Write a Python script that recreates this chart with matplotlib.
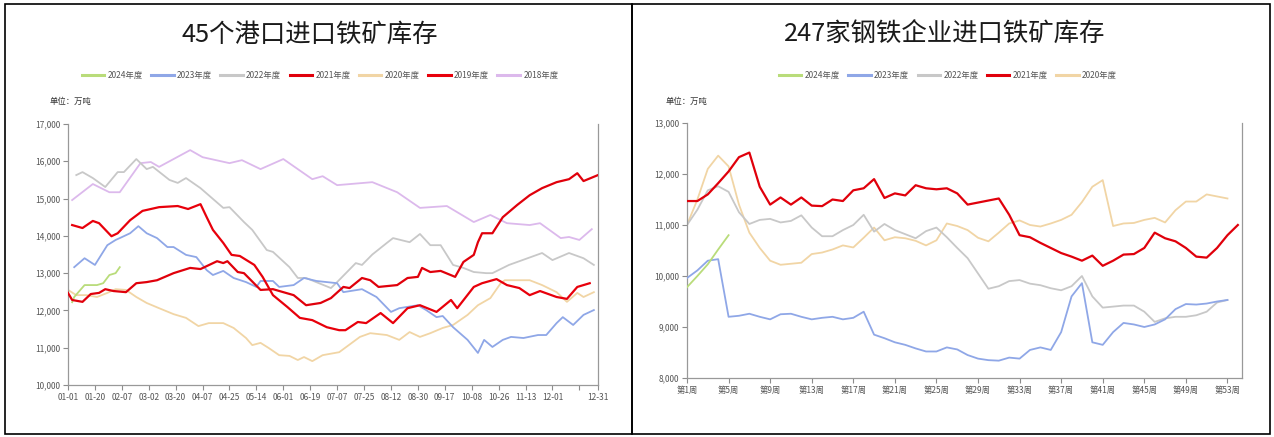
import matplotlib
matplotlib.use("Agg")
import matplotlib.pyplot as plt
from matplotlib.patches import Rectangle
from matplotlib.ticker import FuncFormatter

plt.rcParams['font.family'] = ['Noto Sans CJK SC', 'DejaVu Sans']

# ---------------- Left chart data: 45 ports (day-index on a category axis) ----------------
left_tick_labels = ["01-01", "01-20", "02-07", "03-02", "03-20", "04-07", "04-25", "05-14",
                    "06-01", "06-19", "07-07", "07-25", "08-12", "08-30", "09-17", "10-08",
                    "10-26", "11-13", "12-01", "", "12-31"]

x2024 = [2, 3, 8, 14, 17, 20, 23, 25]
v2024 = [12220, 12360, 12680, 12680, 12730, 12950, 13000, 13160]

x2023 = [3, 8, 13, 19, 23, 25, 30, 34, 38, 43, 48, 51, 57, 62, 67, 70, 75, 80, 86, 91, 93, 99,
         102, 109, 114, 120, 130, 133, 142, 149, 156, 160, 169, 173, 178, 181, 186, 193, 198,
         201, 205, 210, 214, 220, 227, 231, 236, 239, 244, 249, 254]
v2023 = [13160, 13400, 13220, 13750, 13890, 13940, 14070, 14260, 14070, 13940, 13700, 13700,
         13490, 13430, 13080, 12950, 13060, 12870, 12760, 12630, 12790, 12790, 12630, 12680,
         12870, 12790, 12730, 12490, 12570, 12360, 11960, 12060, 12140, 12010, 11820, 11850,
         11550, 11210, 10860, 11210, 11020, 11210, 11290, 11260, 11340, 11340, 11660, 11820,
         11610, 11880, 12010]

x2022 = [4, 7, 12, 18, 24, 27, 33, 38, 41, 49, 53, 57, 64, 75, 78, 85, 89, 96, 99, 107, 111,
         115, 127, 130, 139, 142, 147, 154, 157, 165, 170, 175, 180, 186, 191, 196, 202, 205,
         213, 217, 229, 234, 242, 249, 254]
v2022 = [15630, 15710, 15550, 15310, 15710, 15710, 16060, 15790, 15850, 15500, 15420, 15550,
         15280, 14750, 14770, 14370, 14160, 13620, 13570, 13160, 12870, 12870, 12600, 12760,
         13270, 13220, 13500, 13810, 13940, 13830, 14050, 13750, 13750, 13220, 13140, 13030,
         13000, 13000, 13220, 13300, 13540, 13350, 13540, 13400, 13220]

x2021 = [0, 2, 7, 11, 15, 18, 22, 28, 33, 38, 43, 51, 59, 64, 72, 75, 77, 82, 85, 93, 99, 104,
         109, 115, 122, 127, 133, 136, 142, 146, 150, 159, 164, 169, 171, 175, 180, 187, 191,
         196, 198, 200, 205, 210, 217, 223, 229, 236, 242, 246, 249, 256]
v2021 = [12470, 12280, 12230, 12440, 12470, 12570, 12520, 12490, 12730, 12760, 12810, 13000,
         13140, 13110, 13320, 13270, 13320, 13030, 13000, 12550, 12570, 12490, 12410, 12140,
         12200, 12330, 12630, 12600, 12870, 12810, 12630, 12680, 12870, 12900, 13140, 13030,
         13060, 12900, 13300, 13490, 13830, 14070, 14070, 14500, 14830, 15090, 15280, 15440,
         15520, 15680, 15470, 15630]

x2020 = [0, 4, 9, 14, 19, 23, 28, 33, 38, 44, 51, 57, 63, 68, 75, 80, 86, 89, 93, 97, 102, 107,
         111, 114, 118, 123, 131, 141, 146, 154, 160, 165, 170, 175, 181, 186, 193, 198, 204,
         209, 211, 217, 223, 229, 236, 241, 246, 249, 254]
v2020 = [12550, 12410, 12410, 12360, 12470, 12570, 12550, 12360, 12200, 12060, 11900, 11800,
         11580, 11660, 11660, 11530, 11260, 11070, 11130, 10990, 10800, 10780, 10670, 10750,
         10640, 10800, 10880, 11290, 11390, 11340, 11210, 11420, 11290, 11390, 11530, 11610,
         11880, 12140, 12330, 12730, 12810, 12810, 12810, 12680, 12490, 12230, 12470, 12360,
         12490]

x2019 = [2, 7, 12, 15, 21, 24, 30, 36, 44, 53, 58, 64, 67, 70, 75, 79, 83, 90, 94, 99, 106, 112,
         118, 125, 131, 134, 140, 144, 151, 157, 164, 170, 178, 185, 188, 196, 200, 207, 212,
         218, 223, 228, 236, 241, 246, 252]
v2019 = [14290, 14210, 14400, 14340, 13990, 14070, 14420, 14670, 14770, 14800, 14720, 14850,
         14500, 14160, 13810, 13490, 13460, 13220, 12900, 12410, 12090, 11800, 11740, 11550,
         11470, 11470, 11690, 11660, 11930, 11660, 12060, 12140, 11960, 12280, 12060, 12630,
         12730, 12840, 12680, 12600, 12410, 12520, 12360, 12310, 12630, 12730]

x2018 = [2, 12, 20, 25, 35, 40, 44, 59, 65, 78, 84, 93, 104, 118, 123, 130, 147, 159, 170, 183,
         196, 204, 212, 223, 228, 238, 242, 247, 253]
v2018 = [14960, 15390, 15170, 15170, 15950, 15980, 15850, 16300, 16110, 15950, 16030, 15790,
         16060, 15520, 15600, 15360, 15440, 15170, 14750, 14800, 14370, 14560, 14340, 14290,
         14340, 13940, 13970, 13890, 14180]

# ---------------- Right chart data: 247 steel mills (weekly) ----------------
r_weeks_2024 = [1, 2, 3, 4, 5]
r2024 = [9780, 10000, 10230, 10520, 10800]

r2023 = [9960, 10110, 10300, 10330, 9200, 9220, 9260, 9200, 9150, 9250, 9260, 9200, 9150,
         9180, 9200, 9150, 9180, 9300, 8850, 8780, 8700, 8650, 8580, 8520, 8520, 8600, 8560,
         8450, 8380, 8350, 8340, 8400, 8380, 8550, 8600, 8550, 8900, 9600, 9860, 8700, 8650,
         8900, 9080, 9050, 9000, 9050, 9150, 9350, 9450, 9440, 9460, 9500, 9530]

r2022 = [11000, 11300, 11680, 11760, 11650, 11250, 11020, 11100, 11120, 11050, 11080, 11190,
         10950, 10780, 10780, 10900, 11000, 11200, 10870, 11020, 10900, 10820, 10740, 10880,
         10950, 10760, 10550, 10350, 10050, 9750, 9800, 9900, 9920, 9850, 9820, 9760, 9720,
         9800, 10000, 9600, 9380, 9400, 9420, 9420, 9300, 9100, 9170, 9200, 9200, 9230, 9300,
         9480, 9530]

r2021 = [11470, 11470, 11600, 11820, 12050, 12330, 12420, 11750, 11400, 11540, 11400, 11540,
         11380, 11370, 11500, 11470, 11680, 11720, 11900, 11530, 11620, 11580, 11780, 11720,
         11700, 11720, 11620, 11400, 11440, 11480, 11520, 11200, 10800, 10760, 10650, 10550,
         10450, 10380, 10300, 10400, 10200, 10300, 10420, 10430, 10550, 10850, 10740, 10680,
         10550, 10380, 10360, 10550, 10800, 11000]

r2020 = [11000, 11500, 12100, 12360, 12150, 11400, 10850, 10550, 10300, 10220, 10240, 10260,
         10430, 10460, 10520, 10600, 10560, 10750, 10950, 10700, 10760, 10740, 10690, 10600,
         10700, 11030, 10980, 10900, 10750, 10680, 10850, 11030, 11090, 11000, 10970, 11030,
         11100, 11200, 11450, 11750, 11880, 10980, 11030, 11040, 11100, 11140, 11050, 11290,
         11460, 11460, 11600, 11560, 11520]

right_tick_weeks = [1, 5, 9, 13, 17, 21, 25, 29, 33, 37, 41, 45, 49, 53]

# ---------------- Styles ----------------
C24 = "#b9dc7a"
C23 = "#8fa7e7"
C22 = "#c8c8c8"
C21 = "#e0000b"
C20 = "#f1d5a5"
C19 = "#e8000b"
C18 = "#dcb9ec"
GREY = "#8c8c8c"
TXT = "#555555"

W, H = 1274, 437
fig = plt.figure(figsize=(W / 100, H / 100), dpi=100)


def frac_rect(x0, y0, x1, y1):
    return [x0 / W, 1 - y1 / H, (x1 - x0) / W, (y1 - y0) / H]


# panel frames
for (x0, x1) in [(5, 632), (632, 1270)]:
    fig.add_artist(Rectangle((x0 / W, 1 - 434 / H), (x1 - x0) / W, 430 / H,
                             transform=fig.transFigure, fill=False, edgecolor="black", lw=1.2))


def style_axes(ax):
    ax.spines["top"].set_visible(False)
    for s in ["left", "bottom", "right"]:
        ax.spines[s].set_color("#999999")
        ax.spines[s].set_linewidth(0.9)
    ax.tick_params(axis="both", direction="out", length=3.5, width=0.8, color=GREY,
                   labelsize=6, labelcolor=TXT, pad=2)
    ax.tick_params(axis="y", right=False)
    ax.yaxis.set_major_formatter(FuncFormatter(lambda v, p: f"{int(v):,}"))


# ---------------- Left chart ----------------
axL = fig.add_axes(frac_rect(68, 124, 598, 385))
style_axes(axL)
lw_thin, lw_red = 1.3, 1.6
axL.plot(x2018, v2018, color=C18, lw=lw_thin, label="2018年度", zorder=2)
axL.plot(x2020, v2020, color=C20, lw=lw_thin, label="2020年度", zorder=2)
axL.plot(x2022, v2022, color=C22, lw=lw_thin, label="2022年度", zorder=2)
axL.plot(x2023, v2023, color=C23, lw=lw_thin, label="2023年度", zorder=3)
axL.plot(x2024, v2024, color=C24, lw=lw_thin, label="2024年度", zorder=3)
axL.plot(x2019, v2019, color=C19, lw=lw_red, label="2019年度", zorder=4)
axL.plot(x2021, v2021, color=C21, lw=lw_red, label="2021年度", zorder=4)
axL.set_xlim(0, 256)
axL.set_ylim(10000, 17000)
axL.set_yticks(range(10000, 17001, 1000))
step = 13
ticks = [i * step for i in range(len(left_tick_labels) - 1)] + [256]
axL.set_xticks(ticks)
axL.set_xticklabels(left_tick_labels)

hL = axL.get_legend_handles_labels()
order = ["2024年度", "2023年度", "2022年度", "2021年度", "2020年度", "2019年度", "2018年度"]
hmap = dict(zip(hL[1], hL[0]))
legL = fig.legend([hmap[k] for k in order], order, loc="center",
                  bbox_to_anchor=(320 / W, 1 - 75 / H), ncol=7, frameon=False,
                  fontsize=6, handlelength=2.7, handletextpad=0.4, columnspacing=1.0,
                  labelcolor=TXT)
for line in legL.get_lines():
    line.set_linewidth(2.2)

fig.text(310 / W, 1 - 35 / H, "45个港口进口铁矿库存", ha="center", va="center",
         fontsize=18.3, color="#1a1a1a", fontweight="light")
fig.text(50 / W, 1 - 101 / H, "单位：万吨", ha="left", va="center", fontsize=6, color="#333333")

# ---------------- Right chart ----------------
axR = fig.add_axes(frac_rect(687, 123, 1242, 378))
style_axes(axR)
wk = list(range(1, 55))
axR.plot(wk[:len(r2020)], r2020, color=C20, lw=lw_thin, label="2020年度", zorder=2)
axR.plot(wk[:len(r2022)], r2022, color=C22, lw=lw_thin, label="2022年度", zorder=2)
axR.plot(wk[:len(r2023)], r2023, color=C23, lw=lw_thin, label="2023年度", zorder=3)
axR.plot(r_weeks_2024, r2024, color=C24, lw=lw_thin, label="2024年度", zorder=3)
axR.plot(wk[:len(r2021)], r2021, color=C21, lw=lw_red, label="2021年度", zorder=4)
axR.set_xlim(1, 54.4)
axR.set_ylim(8000, 13000)
axR.set_yticks(range(8000, 13001, 1000))
axR.set_xticks(right_tick_weeks)
axR.set_xticklabels([f"第{w}周" for w in right_tick_weeks])

hR = axR.get_legend_handles_labels()
orderR = ["2024年度", "2023年度", "2022年度", "2021年度", "2020年度"]
hmapR = dict(zip(hR[1], hR[0]))
legR = fig.legend([hmapR[k] for k in orderR], orderR, loc="center",
                  bbox_to_anchor=(948 / W, 1 - 75 / H), ncol=5, frameon=False,
                  fontsize=6, handlelength=2.7, handletextpad=0.4, columnspacing=1.0,
                  labelcolor=TXT)
for line in legR.get_lines():
    line.set_linewidth(2.2)

fig.text(945 / W, 1 - 35 / H, "247家钢铁企业进口铁矿库存", ha="center", va="center",
         fontsize=18.3, color="#1a1a1a", fontweight="light")
fig.text(666 / W, 1 - 101 / H, "单位：万吨", ha="left", va="center", fontsize=6, color="#333333")

fig.savefig("out.png", dpi=100)
